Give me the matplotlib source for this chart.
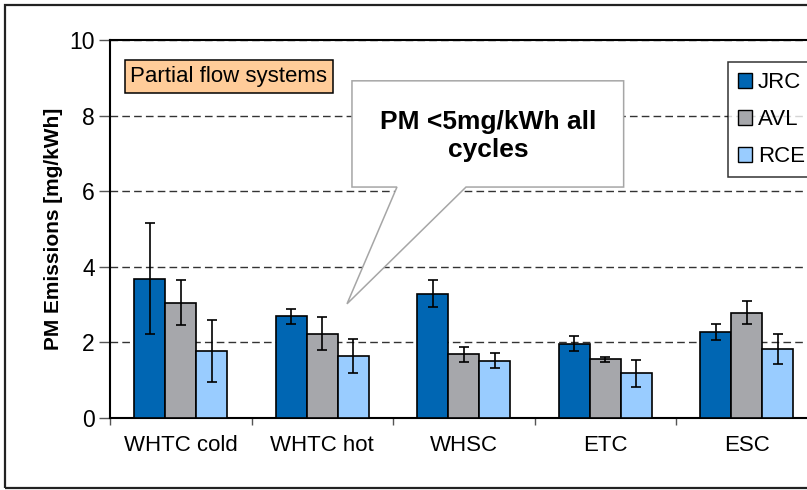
import matplotlib
matplotlib.use('Agg')
import matplotlib.pyplot as plt
import numpy as np
from matplotlib.patches import Polygon, Rectangle, Patch

plt.rcParams['font.family'] = ['Liberation Sans', 'DejaVu Sans']

cycles = ['WHTC cold', 'WHTC hot', 'WHSC', 'ETC', 'ESC']
labs = ['JRC', 'AVL', 'RCE']
jrc = [3.69, 2.69, 3.29, 1.96, 2.28]
jrc_err = [1.48, 0.20, 0.35, 0.20, 0.21]
avl = [3.05, 2.23, 1.68, 1.55, 2.79]
avl_err = [0.60, 0.43, 0.19, 0.07, 0.30]
rce = [1.77, 1.65, 1.51, 1.18, 1.83]
rce_err = [0.82, 0.45, 0.20, 0.36, 0.40]
colors = ['#0066B3', '#A6A7AB', '#99CCFF']

W, H = 807, 490
fig = plt.figure(figsize=(W / 100, H / 100), dpi=100)
ax = fig.add_axes([110 / W, 72 / H, 707.5 / W, 378 / H])

# outer frame of the slide
fig.patches.append(Rectangle((5 / W, 2 / H), 1.0, 483 / H, transform=fig.transFigure,
                             fill=False, edgecolor='#222222', lw=1.6, zorder=0))

x = np.arange(len(cycles))
bw = 0.22
for i, (vals, errs) in enumerate([(jrc, jrc_err), (avl, avl_err), (rce, rce_err)]):
    ax.bar(x + (i - 1) * bw, vals, bw, color=colors[i], edgecolor='black', lw=1.2,
           yerr=errs, error_kw=dict(ecolor='black', elinewidth=1.2, capsize=3.4,
                                    capthick=1.2), zorder=3)

ax.set_xlim(-0.5, 4.5)
ax.set_ylim(0, 10)
ax.set_yticks(np.arange(0, 11, 2))
ax.set_xticks(x)
ax.set_xticklabels(cycles, fontsize=16)
ax.set_xticks(np.arange(-0.5, 5, 1), minor=True)
ax.tick_params(axis='x', which='major', length=0, pad=12)
ax.tick_params(axis='x', which='minor', length=5, width=1, color='#555555', direction='out')
ax.tick_params(axis='y', length=8, width=1, color='#555555', labelsize=16.5, pad=3)
for s in ['left', 'top', 'bottom']:
    ax.spines[s].set_linewidth(1.5)
    ax.spines[s].set_color('black')
ax.spines['right'].set_visible(False)
ax.yaxis.grid(True, color='#333333', lw=1, dashes=(5.5, 3))
ax.set_axisbelow(True)
ax.set_ylabel('PM Emissions [mg/kWh]', fontsize=15, fontweight='bold')
ax.yaxis.set_label_coords(-0.066, 0.5)

# speech bubble callout
bubble = [(1.21, 8.92), (3.13, 8.92), (3.13, 6.11), (2.016, 6.11), (1.175, 3.02),
          (1.528, 6.11), (1.21, 6.11)]
ax.add_patch(Polygon(bubble, closed=True, facecolor='white', edgecolor='#A6A6A6',
                     lw=1.1, zorder=4))
ax.text(2.171, 7.47, 'PM <5mg/kWh all\ncycles', ha='center', va='center',
        fontsize=19, fontweight='bold', linespacing=1.2, zorder=5)

fig.text(229 / W, 1 - 76.5 / H, 'Partial flow systems', fontsize=16, ha='center',
         va='center', bbox=dict(boxstyle='square,pad=0.25', facecolor='#FFCC99',
                                edgecolor='black', lw=1.1))

handles = [Patch(facecolor=c, edgecolor='black', lw=1) for c in colors]
leg = fig.legend(handles, labs, loc='upper left', bbox_to_anchor=(728 / W, 1 - 62 / H),
                 fontsize=16, frameon=True, fancybox=False, handlelength=0.65,
                 handleheight=0.65, handletextpad=0.25, labelspacing=0.72,
                 borderpad=0.45, borderaxespad=0)
leg.get_frame().set_edgecolor('black')
leg.get_frame().set_linewidth(1.1)

fig.savefig('out.png', dpi=100)
plt.close(fig)
